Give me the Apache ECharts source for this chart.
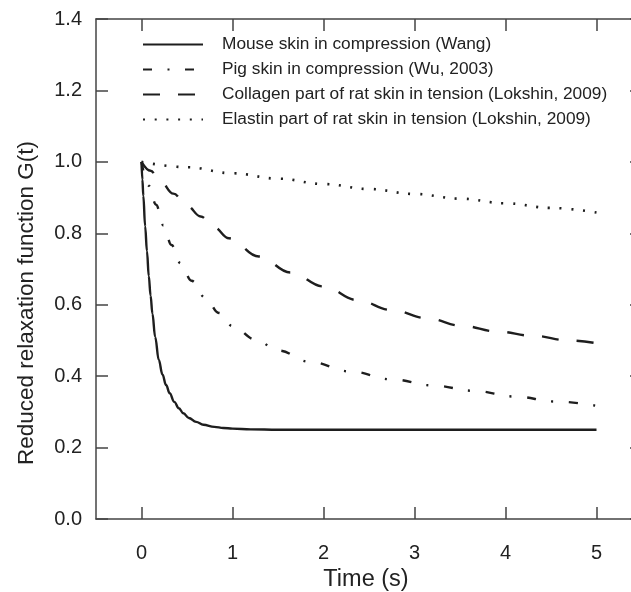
<!DOCTYPE html>
<html>
<head>
<meta charset="utf-8">
<script src="https://cdn.jsdelivr.net/npm/echarts@6/dist/echarts.min.js"></script>
<style>
html,body{margin:0;padding:0;background:#fff;}
#chart{width:631px;height:592px;}
</style>
</head>
<body>
<div id="chart"></div>
<script>
// Data
var seriesNames = [
  'Mouse skin in compression (Wang)',
  'Pig skin in compression (Wu, 2003)',
  'Collagen part of rat skin in tension (Lokshin, 2009)',
  'Elastin part of rat skin in tension (Lokshin, 2009)'
];
var tMouse = [0, 0.01, 0.02, 0.04, 0.06, 0.08, 0.1, 0.12, 0.15, 0.19, 0.23, 0.27, 0.31, 0.36, 0.41, 0.46, 0.52, 0.6, 0.68, 0.8, 0.9, 1.0, 1.2, 1.5, 2, 3, 4, 5];
var gMouse = [1.0, 0.95, 0.905, 0.82, 0.75, 0.68, 0.625, 0.575, 0.51, 0.445, 0.405, 0.375, 0.352, 0.328, 0.31, 0.296, 0.283, 0.272, 0.264, 0.258, 0.255, 0.253, 0.251, 0.25, 0.25, 0.25, 0.25, 0.25];
var tPig = [0, 0.08, 0.16, 0.24, 0.33, 0.43, 0.55, 0.7, 0.85, 1.0, 1.25, 1.5, 1.85, 2.3, 2.75, 3.2, 3.65, 4.1, 4.55, 5];
var gPig = [1.0, 0.933, 0.88, 0.822, 0.767, 0.716, 0.667, 0.62, 0.577, 0.54, 0.503, 0.472, 0.44, 0.413, 0.391, 0.374, 0.359, 0.343, 0.329, 0.317];
var tCollagen = [0, 0.1, 0.2, 0.35, 0.5, 0.65, 0.8, 0.96, 1.29, 1.64, 2.0, 2.37, 2.75, 3.14, 3.52, 3.91, 4.3, 4.7, 5];
var gCollagen = [1.0, 0.975, 0.948, 0.911, 0.877, 0.847, 0.816, 0.786, 0.735, 0.69, 0.651, 0.613, 0.585, 0.562, 0.541, 0.525, 0.513, 0.5, 0.492];
var tElastin = [0, 0.5, 1, 1.5, 2, 2.5, 3, 3.5, 4, 4.5, 5];
var gElastin = [1.0, 0.985, 0.968, 0.953, 0.938, 0.924, 0.910, 0.897, 0.884, 0.871, 0.858];
var xTicks = [0, 1, 2, 3, 4, 5];
var yTicks = [0.0, 0.2, 0.4, 0.6, 0.8, 1.0, 1.2, 1.4];

function zip(t, g) { return t.map(function (v, i) { return [v, g[i]]; }); }

var FONT = '"Liberation Sans", Arial, Helvetica, sans-serif';
var LINE = '#1e1e1e';
var AX = '#444';
var TXT = '#222';

var chart = echarts.init(document.getElementById('chart'), null, {renderer: 'canvas'});

function xAxisBase(show) {
  return {
    type: 'value', min: -0.5, max: 5.5,
    axisLine: {show: true, onZero: false, lineStyle: {color: AX, width: 1.5}},
    axisTick: {show: true, inside: true, length: 12, lineStyle: {color: AX, width: 1.5}, customValues: xTicks},
    axisLabel: {show: show, customValues: xTicks, margin: 24, color: TXT, fontSize: 20, fontFamily: FONT},
    splitLine: {show: false}
  };
}
function yAxisBase(show) {
  return {
    type: 'value', min: 0, max: 1.4, interval: 0.2,
    axisLine: {show: true, onZero: false, lineStyle: {color: AX, width: 1.5}},
    axisTick: {show: true, inside: true, length: 12, lineStyle: {color: AX, width: 1.5}},
    axisLabel: {show: show, margin: 14, color: TXT, fontSize: 20, fontFamily: FONT,
      formatter: function (v) { return v.toFixed(1); }},
    splitLine: {show: false}
  };
}

var xBottom = xAxisBase(true);
xBottom.position = 'bottom';
xBottom.name = 'Time (s)';
xBottom.nameLocation = 'middle';
xBottom.nameGap = 46;
xBottom.nameTextStyle = {color: TXT, fontSize: 23.5, fontFamily: FONT, padding: [0, 6, 0, 0]};
var xTop = xAxisBase(false);
xTop.position = 'top';
var yLeft = yAxisBase(true);
yLeft.position = 'left';
var yRight = yAxisBase(false);
yRight.position = 'right';

function lineSeries(name, data, type, width) {
  return {
    name: name, type: 'line', data: data, xAxisIndex: 0, yAxisIndex: 0,
    symbol: 'none', smooth: 0.4, smoothMonotone: 'x', silent: true,
    lineStyle: {color: LINE, width: width, type: type, cap: 'butt'},
    itemStyle: {color: LINE}
  };
}

var option = {
  animation: false,
  backgroundColor: '#fff',
  grid: {left: 96, top: 19, width: 546, height: 500, containLabel: false, outerBoundsMode: 'none'},
  xAxis: [xBottom, xTop],
  yAxis: [yLeft, yRight],
  legend: {
    orient: 'vertical', left: 137, top: 31,
    itemWidth: 60, itemHeight: 14, itemGap: 8,
    selectedMode: false,
    itemStyle: {opacity: 0},
    textStyle: {color: TXT, fontSize: 17.3, fontFamily: FONT, padding: [0, 0, 0, 14]},
    data: seriesNames
  },
  graphic: [{
    type: 'text', x: 27, y: 303, rotation: Math.PI / 2,
    style: {text: 'Reduced relaxation function G(t)', fill: TXT, font: '22.5px ' + FONT,
      align: 'center', verticalAlign: 'middle'}
  }],
  series: [
    lineSeries(seriesNames[0], zip(tMouse, gMouse), 'solid', 2.4),
    lineSeries(seriesNames[1], zip(tPig, gPig), [9, 15.5, 2, 15.5], 2.4),
    lineSeries(seriesNames[2], zip(tCollagen, gCollagen), [17, 18], 2.4),
    lineSeries(seriesNames[3], zip(tElastin, gElastin), [2, 9.7], 2.6)
  ]
};
chart.setOption(option);
</script>
</body>
</html>
